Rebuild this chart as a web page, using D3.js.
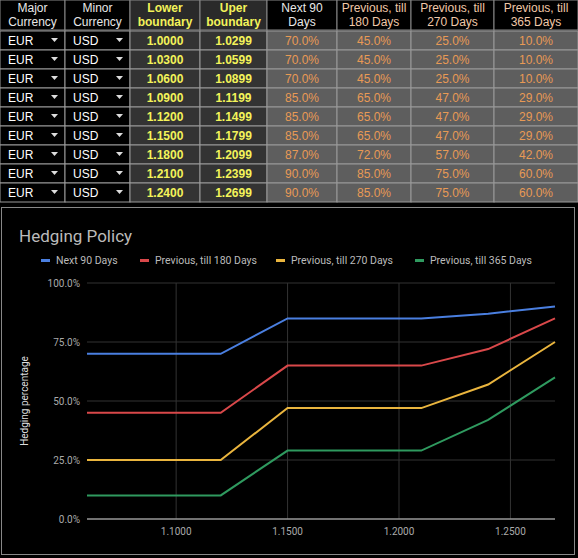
<!DOCTYPE html><html><head><meta charset="utf-8"><script src="https://d3js.org/d3.v7.min.js"></script>
<style>body{margin:0;background:#000;font-family:Arial,"Liberation Sans",sans-serif}</style></head><body><svg id="c" width="578" height="558"></svg><script>
const headers=[["Major","Currency"],["Minor","Currency"],["Lower","boundary"],["Uper","boundary"],["Next 90","Days"],["Previous, till","180 Days"],["Previous, till","270 Days"],["Previous, till","365 Days"]];
const lowerB=["1.0000","1.0300","1.0600","1.0900","1.1200","1.1500","1.1800","1.2100","1.2400"];
const upperB=["1.0299","1.0599","1.0899","1.1199","1.1499","1.1799","1.2099","1.2399","1.2699"];
const t90=["70.0%","70.0%","70.0%","85.0%","85.0%","85.0%","87.0%","90.0%","90.0%"];
const t180=["45.0%","45.0%","45.0%","65.0%","65.0%","65.0%","72.0%","85.0%","85.0%"];
const t270=["25.0%","25.0%","25.0%","47.0%","47.0%","47.0%","57.0%","75.0%","75.0%"];
const t365=["10.0%","10.0%","10.0%","29.0%","29.0%","29.0%","42.0%","60.0%","60.0%"];
const xVals=[1.06,1.09,1.12,1.15,1.18,1.21,1.24,1.27];
const sNext90=[70,70,70,85,85,85,87,90];
const s180=[45,45,45,65,65,65,72,85];
const s270=[25,25,25,47,47,47,57,75];
const s365=[10,10,10,29,29,29,42,60];
const seriesNames=["Next 90 Days","Previous, till 180 Days","Previous, till 270 Days","Previous, till 365 Days"];
const colors=["#4a7fe0","#d9484a","#eab53e","#2f9a5f"];
const xTicks=[1.10,1.15,1.20,1.25];
const yTicks=[0,25,50,75,100];

const svg=d3.select("#c");
const colX=[0,65,130,200,267,337,411,494,578];
const hH=30,rH=19;
for(let c=0;c<8;c++){
  const x0=colX[c],w=colX[c+1]-colX[c];
  const hg=svg.append("g");
  hg.append("rect").attr("x",x0).attr("y",0).attr("width",w).attr("height",hH).attr("fill",c==2||c==3?"#2a2a2a":"#000").attr("stroke","#888").attr("stroke-width",1);
  headers[c].forEach((t,i)=>hg.append("text").attr("x",x0+w/2).attr("y",12+i*14).attr("text-anchor","middle").attr("font-size",12)
    .attr("font-weight",c==2||c==3?"bold":"normal").attr("fill",c==2||c==3?"#f3f35a":(c>=5?"#f0c8a8":"#e8e8e8")).text(t));
}
const cols=[lowerB.map(()=>"EUR"),lowerB.map(()=>"USD"),lowerB,upperB,t90,t180,t270,t365];
for(let r=0;r<9;r++){
  const y0=hH+r*rH+1;
  for(let c=0;c<8;c++){
    const x0=colX[c],w=colX[c+1]-colX[c];
    const bg=c<2?"#000":(c<4?"#333":"#5e5e5e");
    svg.append("rect").attr("x",x0).attr("y",y0).attr("width",w).attr("height",rH).attr("fill",bg).attr("stroke","#999").attr("stroke-width",1);
    const tx=c<2?x0+8:x0+w/2;
    svg.append("text").attr("x",tx).attr("y",y0+14).attr("text-anchor",c<2?"start":"middle").attr("font-size",12)
      .attr("font-weight",c==2||c==3?"bold":"normal").attr("fill",c<2?"#fff":(c<4?"#f3f35a":"#e89a55")).text(cols[c][r]);
    if(c<2) svg.append("path").attr("d",`M${x0+w-14},${y0+7}l7,0l-3.5,4z`).attr("fill","#ddd");
  }
}
svg.append("rect").attr("x",1.5).attr("y",207.5).attr("width",573).attr("height",347).attr("fill","#000").attr("stroke","#888");
svg.append("text").attr("x",19).attr("y",242).attr("font-family","Roboto").attr("font-size",17).attr("fill","#bbb").text("Hedging Policy");
const lg=svg.append("g").attr("font-family","Roboto").attr("font-size",10.5).attr("fill","#bbb");
const lx=[41,140,276,415];
seriesNames.forEach((n,i)=>{lg.append("rect").attr("x",lx[i]).attr("y",259).attr("width",9).attr("height",3).attr("fill",colors[i]);
  lg.append("text").attr("x",lx[i]+15).attr("y",264).text(n);});
const x=d3.scaleLinear().domain([1.06,1.27]).range([87,555]);
const y=d3.scaleLinear().domain([0,100]).range([519,283]);
const g=svg.append("g");
xTicks.forEach(t=>g.append("line").attr("x1",x(t)).attr("x2",x(t)).attr("y1",283).attr("y2",519).attr("stroke","#333"));
yTicks.forEach(t=>g.append("line").attr("x1",87).attr("x2",555).attr("y1",y(t)).attr("y2",y(t)).attr("stroke",t==0?"#999":"#333").attr("stroke-width",t==0?1.5:1));
yTicks.forEach(t=>g.append("text").attr("x",80).attr("y",y(t)+4).attr("text-anchor","end").attr("font-family","Roboto").attr("font-size",10).attr("fill","#aaa").text(t.toFixed(1)+"%"));
xTicks.forEach(t=>g.append("text").attr("x",x(t)).attr("y",535).attr("text-anchor","middle").attr("font-family","Roboto").attr("font-size",10).attr("fill","#aaa").text(t.toFixed(4)));
svg.append("text").attr("transform","translate(28,401) rotate(-90)").attr("text-anchor","middle").attr("font-family","Roboto").attr("font-size",10).attr("fill","#ddd").text("Hedging percentage");
const line=d3.line().x((d,i)=>x(xVals[i])).y(d=>y(d));
[sNext90,s180,s270,s365].forEach((s,i)=>g.append("path").attr("d",line(s)).attr("fill","none").attr("stroke",colors[i]).attr("stroke-width",2));
</script></body></html>
